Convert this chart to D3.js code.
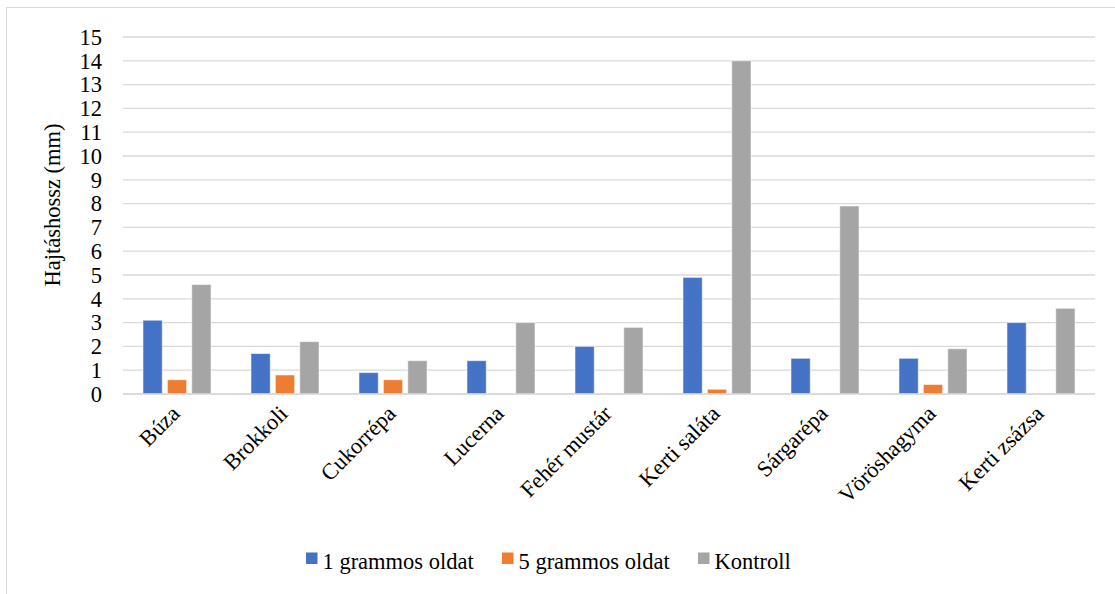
<!DOCTYPE html>
<html>
<head>
<meta charset="utf-8">
<script src="https://cdn.jsdelivr.net/npm/d3@7"></script>
<style>
  html, body { margin: 0; padding: 0; background: #fff; }
  svg { display: block; }
  text { font-family: "Liberation Serif", "Times New Roman", serif; fill: #000; }
</style>
</head>
<body>
<svg id="chart" width="1115" height="594"></svg>
<script>
const categories = ["Búza", "Brokkoli", "Cukorrépa", "Lucerna", "Fehér mustár", "Kerti saláta", "Sárgarépa", "Vöröshagyma", "Kerti zsázsa"];
const seriesNames = ["1 grammos oldat", "5 grammos oldat", "Kontroll"];
const gram1 = [3.1, 1.7, 0.9, 1.4, 2.0, 4.9, 1.5, 1.5, 3.0];
const gram5 = [0.6, 0.8, 0.6, 0, 0, 0.2, 0, 0.4, 0];
const kontroll = [4.6, 2.2, 1.4, 3.0, 2.8, 14.0, 7.9, 1.9, 3.6];
const yTicks = d3.range(0, 16, 1);
const colors = ["#4472C4", "#ED7D31", "#A5A5A5"];
const yTitle = "Hajtáshossz (mm)";

const seriesValues = [gram1, gram5, kontroll];
const svg = d3.select("#chart");
const FS = "22.5px";

// outer border
svg.append("rect")
  .attr("x", 6.5).attr("y", 7.5)
  .attr("width", 1200).attr("height", 700)
  .attr("fill", "none").attr("stroke", "#D9D9D9").attr("stroke-width", 1);

const plot = { left: 123, right: 1095, top: 37, bottom: 394 };

const x0 = d3.scaleBand().domain(categories).range([plot.left, plot.right]).paddingInner(0.37).paddingOuter(0.185);
const x1 = d3.scaleBand().domain(seriesNames).range([0, x0.bandwidth()]).paddingInner(0.21);
const y = d3.scaleLinear().domain([0, 15]).range([plot.bottom, plot.top]);

// gridlines
svg.append("g").selectAll("line").data(yTicks).join("line")
  .attr("x1", plot.left).attr("x2", plot.right)
  .attr("y1", d => y(d)).attr("y2", d => y(d))
  .attr("stroke", "#D9D9D9").attr("stroke-width", 1.3);

// y tick labels
svg.append("g").selectAll("text").data(yTicks).join("text")
  .attr("x", 102).attr("y", d => y(d))
  .attr("dy", "0.35em")
  .attr("text-anchor", "end")
  .style("font-size", FS)
  .text(d => d);

// bars
const rows = [];
categories.forEach((c, i) => {
  seriesNames.forEach((s, j) => rows.push({ c, s, j, v: seriesValues[j][i] }));
});
svg.append("g").selectAll("rect").data(rows.filter(d => d.v > 0)).join("rect")
  .attr("x", d => x0(d.c) + x1(d.s))
  .attr("width", x1.bandwidth())
  .attr("y", d => y(d.v))
  .attr("height", d => y(0) - y(d.v))
  .attr("fill", d => colors[d.j])
  .attr("stroke", "rgba(255,255,255,0.55)")
  .attr("stroke-width", 1);

// baseline
svg.append("line")
  .attr("x1", plot.left).attr("x2", plot.right)
  .attr("y1", y(0)).attr("y2", y(0))
  .attr("stroke", "#D9D9D9").attr("stroke-width", 1.3);

// x labels
svg.append("g").selectAll("text").data(categories).join("text")
  .attr("transform", d => `translate(${x0(d) + x0.bandwidth() / 2 + 4},${415}) rotate(-45)`)
  .attr("text-anchor", "end")
  .style("font-size", FS)
  .text(d => d);

// y title
svg.append("text")
  .attr("transform", `translate(60,${205}) rotate(-90)`)
  .attr("text-anchor", "middle")
  .style("font-size", FS)
  .text(yTitle);

// legend
const legendX = [306, 502, 698];
const lg = svg.append("g").selectAll("g").data(seriesNames).join("g")
  .attr("transform", (d, i) => `translate(${legendX[i]},552.5)`);
lg.append("rect").attr("width", 11.5).attr("height", 11.5).attr("fill", (d, i) => colors[i]);
lg.append("text").attr("x", 16.5).attr("y", 16.5)
  .style("font-size", FS).text(d => d);
</script>
</body>
</html>
